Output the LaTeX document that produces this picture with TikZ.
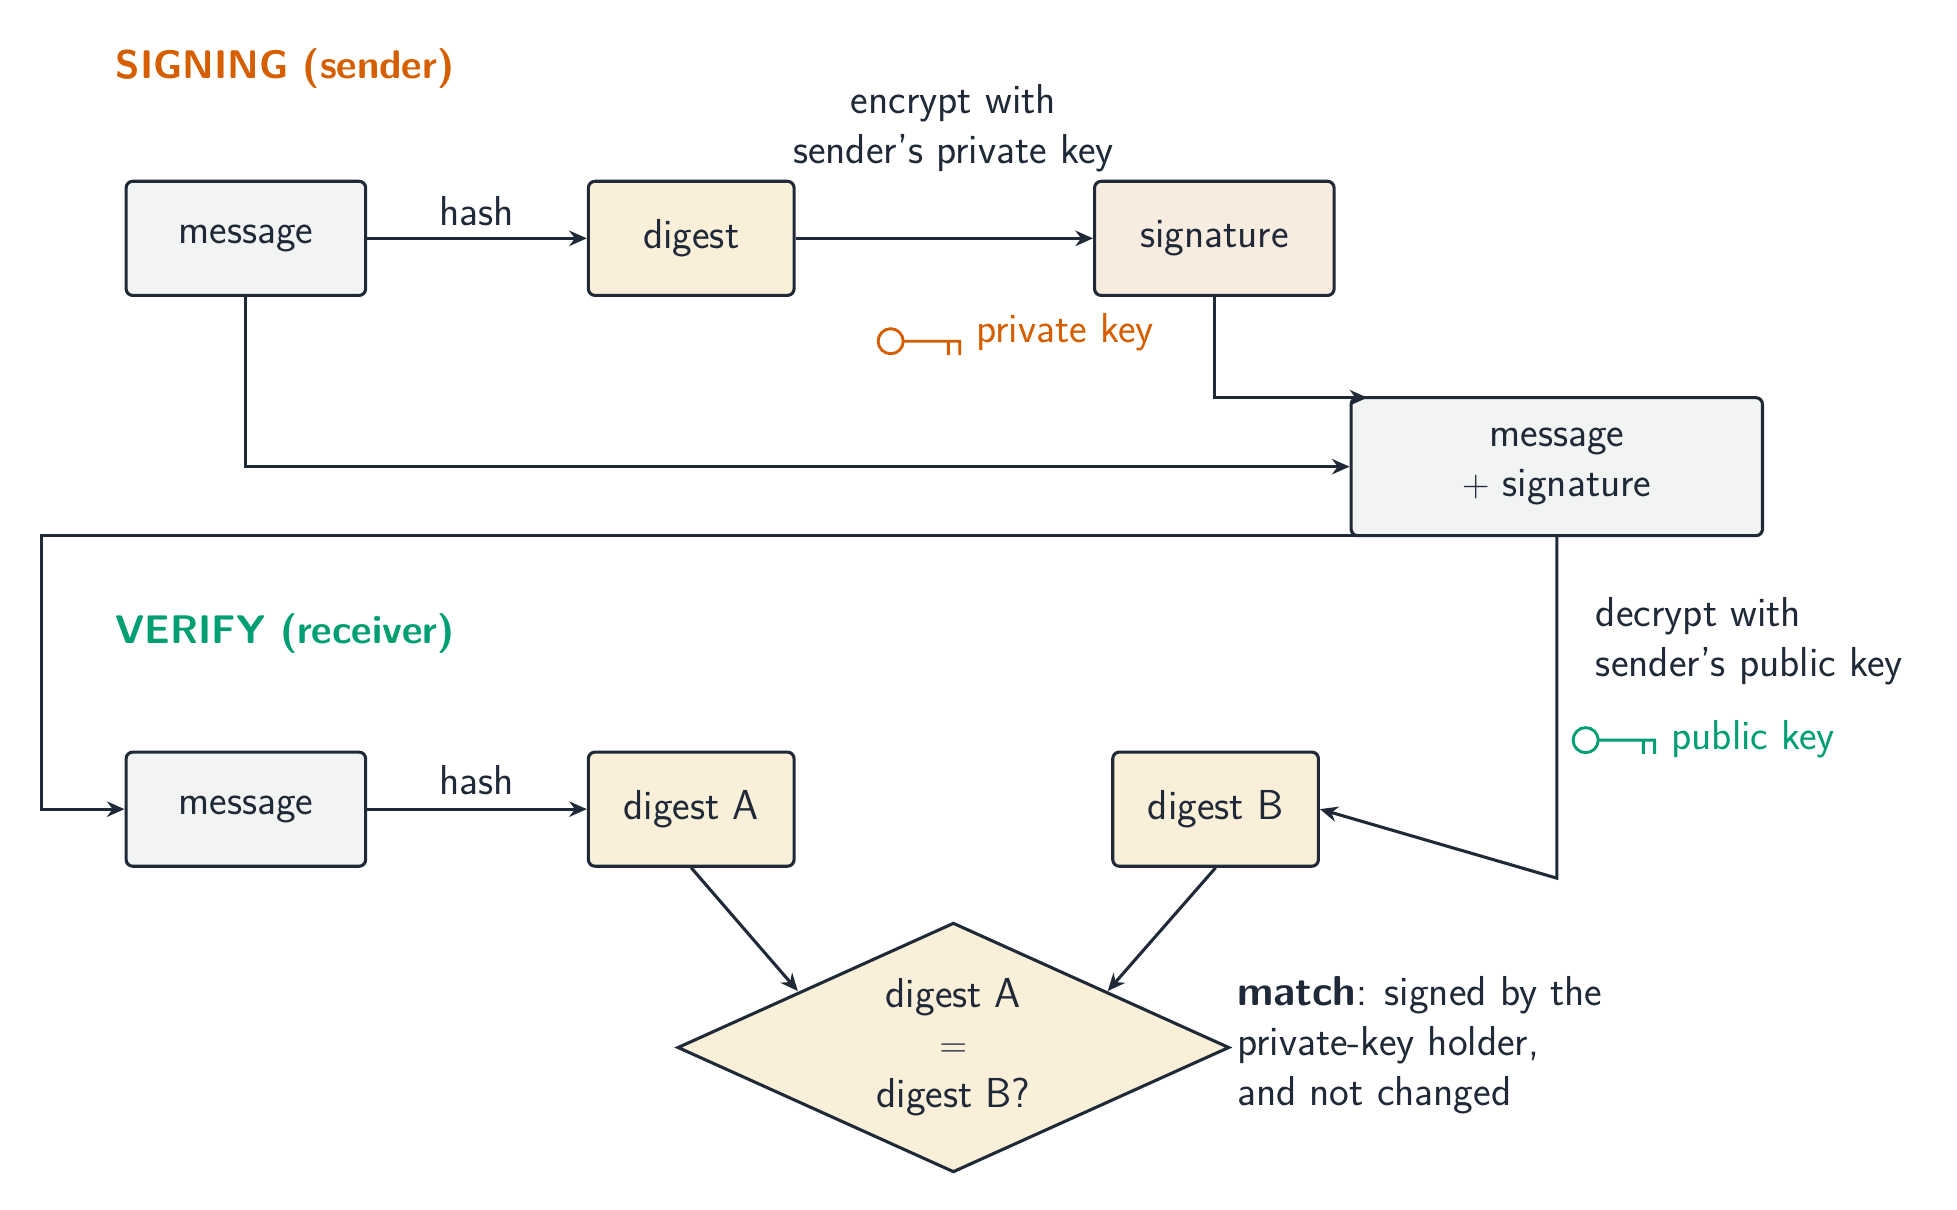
\documentclass[tikz,border=0pt]{standalone}
\usetikzlibrary{shapes.geometric,arrows.meta}
\begin{document}
\definecolor{ink}{HTML}{1F2937}
\definecolor{gfill}{HTML}{F2F4F3}
\definecolor{dfill}{HTML}{FAEFD9}
\definecolor{sfill}{HTML}{F8EBE0}
\definecolor{org}{HTML}{D55E00}
\definecolor{grn}{HTML}{009E73}
\begin{tikzpicture}[x=0.02cm,y=-0.02cm,
  every node/.style={font=\sffamily\fontsize{19}{22.7}\selectfont, text=ink},
  box/.style={draw=ink, line width=1.4pt, rounded corners=3pt, minimum height=1.82cm},
  arr/.style={draw=ink, line width=1.4pt, -{Stealth[length=8pt,width=7pt]}},
  ln/.style={draw=ink, line width=1.4pt}]
\useasboundingbox (0,0) rectangle (1560,964);
\node[anchor=west, text=org, font=\sffamily\bfseries\fontsize{18.1}{21}\selectfont] (t1) at (86,55) {SIGNING (sender)};
\node[anchor=west, text=grn, font=\sffamily\bfseries\fontsize{18.1}{21}\selectfont] (t2) at (86,505) {VERIFY (receiver)};
\node[box, fill=gfill, minimum width=3.82cm] (m1) at (196,190) {message};
\node[box, fill=dfill, minimum width=3.28cm] (d) at (551,190) {digest};
\node[box, fill=sfill, minimum width=3.82cm] (s) at (968,190) {signature};
\node[box, fill=gfill, minimum width=6.56cm, minimum height=2.2cm, align=center] (ms) at (1241,372) {message\\$+$ signature};
\node[box, fill=gfill, minimum width=3.82cm] (m2) at (196,645) {message};
\node[box, fill=dfill, minimum width=3.28cm] (da) at (551,645) {digest A};
\node[box, fill=dfill, minimum width=3.28cm] (db) at (969,645) {digest B};
\node[diamond, draw=ink, line width=1.4pt, fill=dfill, minimum width=8.8cm, minimum height=3.98cm, inner sep=0pt] (q) at (760,835) {};
\node[align=center] (qt) at (q.center) {digest A\\$=$\\digest B?};
\node (h1) at (380,168) {hash};
\node (h2) at (380,622) {hash};
\node[align=center] (enc) at (760,102) {encrypt with\\sender's private key};
\node[align=left, anchor=west] (dec) at (1266,511) {decrypt with\\sender's public key};
\node[align=left, anchor=west] (mt) at (980,833) {\textbf{match}: signed by the\\private-key holder,\\and not changed};
% keys
\draw[org, line width=1.3pt] (710,272) circle (10) (720,272) -- (766,272) (756,272) -- (756,283) (765,272) -- (765,283);
\node[anchor=west, text=org] (pk) at (772,265) {private key};
\draw[grn, line width=1.3pt] (1264,590) circle (10) (1274,590) -- (1320,590) (1310,590) -- (1310,601) (1319,590) -- (1319,601);
\node[anchor=west, text=grn] (pub) at (1326,589) {public key};
% connectors
\coordinate (c1) at (1090,317);
\coordinate (c2) at (1088,427);
\coordinate (c3) at (33,427);
\coordinate (c4) at (1241,700);
\draw[arr] (m1) -- (d);
\draw[arr] (d) -- (s);
\draw[arr] (s.south) |- (c1);
\draw[arr] (m1.south) |- (ms.west);
\draw[arr] (c2) -- (c3) |- (m2.west);
\draw[arr] (ms.south) -- (c4) -- (db.east);
\draw[arr] (m2) -- (da);
\draw[arr] (da.south) -- (636,790);
\draw[arr] (db.south) -- (883,790);
\end{tikzpicture}
\end{document}
